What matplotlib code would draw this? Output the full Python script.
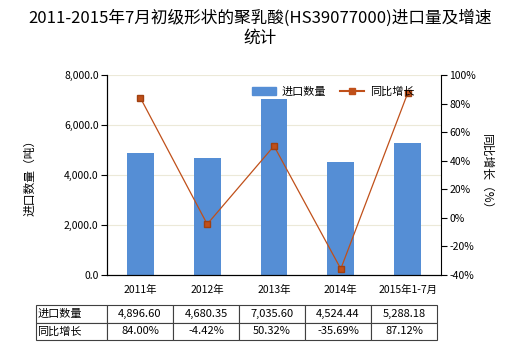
import matplotlib
matplotlib.use("Agg")
import matplotlib.pyplot as plt
import numpy as np
from matplotlib.lines import Line2D
from matplotlib.patches import Patch

plt.rcParams['font.family'] = ['Noto Sans CJK SC', 'DejaVu Sans']

categories = ["2011年", "2012年", "2013年", "2014年", "2015年1-7月"]
import_qty = [4896.60, 4680.35, 7035.60, 4524.44, 5288.18]
yoy_growth = [84.00, -4.42, 50.32, -35.69, 87.12]
series_names = ["进口数量", "同比增长"]
left_ticks = [0, 2000, 4000, 6000, 8000]
right_ticks = [-40, -20, 0, 20, 40, 60, 80, 100]

bar_color = "#558ed5"
line_color = "#c0501a"

fig = plt.figure(figsize=(5.2, 3.5), dpi=100)
ax = fig.add_axes([107/520, 1-275/350, 334/520, 200/350])
x = np.arange(len(categories))
ax.bar(x, import_qty, width=0.4, color=bar_color, zorder=2)
ax.set_xlim(-0.5, len(categories)-0.5)
ax.set_ylim(0, 8000)
ax.set_yticks(left_ticks)
ax.set_yticklabels([f"{v:,.1f}" for v in left_ticks], fontsize=7.5)
ax.set_xticks(x)
ax.set_xticklabels(categories, fontsize=7.5)
ax.tick_params(axis='x', length=0, pad=7)
ax.tick_params(axis='y', length=4, width=0.8, direction='out', pad=2)
ax.grid(axis='y', color='#ece9d8', linewidth=0.8, zorder=0)
for s in ['top', 'right']:
    ax.spines[s].set_visible(False)
ax.set_ylabel("进口数量（吨）", fontsize=8.5, labelpad=20)

ax2 = ax.twinx()
ax2.plot(x, yoy_growth, color=line_color, linewidth=0.9, marker='s', markersize=4,
         markerfacecolor=line_color, markeredgecolor="#a04010", zorder=3)
ax2.set_ylim(-40, 100)
ax2.set_yticks(right_ticks)
ax2.set_yticklabels([f"{v}%" for v in right_ticks], fontsize=7.5)
ax2.tick_params(axis='y', length=4, width=0.8, direction='out', pad=2)
ax2.spines['top'].set_visible(False)
ax2.set_ylabel("同比增长（%）", fontsize=8.5, rotation=-90, labelpad=12)

handles = [Patch(color=bar_color), Line2D([0], [0], color=line_color, marker='s', markersize=4, linewidth=1.5)]
leg = fig.legend(handles, series_names, loc='center', bbox_to_anchor=(333/520, 1-92/350),
                 ncol=2, frameon=False, fontsize=8, handlelength=2.2, columnspacing=1.2,
                 handletextpad=0.5)

fig.suptitle("2011-2015年7月初级形状的聚乳酸(HS39077000)进口量及增速\n统计",
             fontsize=12, y=1-9/350, va='top', linespacing=1.25)

# table
cell_text = [[series_names[0]] + [f"{v:,.2f}" for v in import_qty],
             [series_names[1]] + [f"{v:.2f}%" for v in yoy_growth]]
tb = ax.table(cellText=cell_text, bbox=[(36-107)/334, (275-340)/200, 401/334, 35/200],
              colWidths=[71] + [66]*5, cellLoc='center')
tb.auto_set_font_size(False)
tb.set_fontsize(8)
for (r, c), cell in tb.get_celld().items():
    cell.set_linewidth(0.8)
    cell.set_edgecolor('#404040')
    if c == 0:
        cell.set_text_props(ha='left')
        cell.PAD = 0.02

fig.savefig("out.png", dpi=100)
